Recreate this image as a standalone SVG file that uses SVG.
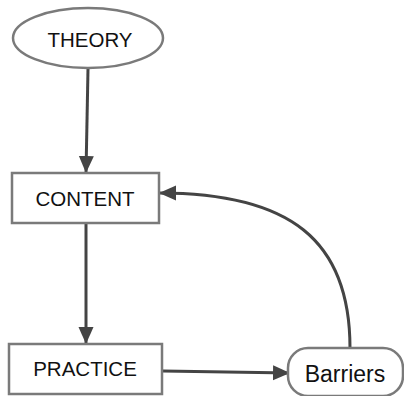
<svg xmlns="http://www.w3.org/2000/svg" width="404" height="396" viewBox="0 0 404 396">
<defs>
<style>
.node{fill:#fff;stroke:#7a7a7a;stroke-width:2.5}
.lbl{font-family:"Liberation Sans",Arial,sans-serif;fill:#111;text-anchor:middle}
.edge{fill:none;stroke:#444;stroke-width:3}
</style>
<marker id="ah" markerUnits="userSpaceOnUse" markerWidth="20" markerHeight="16" refX="17" refY="7.5" orient="auto">
<path d="M0,0 L17,7.5 L0,15 Z" fill="#444"/>
</marker>
</defs>
<rect width="404" height="396" fill="#fff"/>
<g id="connectors">
<path class="edge" d="M88,69 L86,173" marker-end="url(#ah)"/>
<path class="edge" d="M86,224 L86,344" marker-end="url(#ah)"/>
<path class="edge" d="M163,371 L290,373" marker-end="url(#ah)"/>
<path class="edge" d="M350,348 C350,240 290,193 159,193" marker-end="url(#ah)"/>
</g>
<g id="theory">
<ellipse class="node" cx="88" cy="38" rx="75" ry="30"/>
<text class="lbl" x="90" y="47" font-size="20.5">THEORY</text>
</g>
<g id="content">
<rect class="node" x="12" y="173" width="147" height="50"/>
<text class="lbl" x="85" y="206" font-size="20.5">CONTENT</text>
</g>
<g id="practice">
<rect class="node" x="9" y="344" width="153" height="50"/>
<text class="lbl" x="85" y="376" font-size="20.5">PRACTICE</text>
</g>
<g id="barriers">
<rect class="node" x="288" y="348" width="115" height="48" rx="20"/>
<text class="lbl" x="345" y="382" font-size="23">Barriers</text>
</g>
</svg>
